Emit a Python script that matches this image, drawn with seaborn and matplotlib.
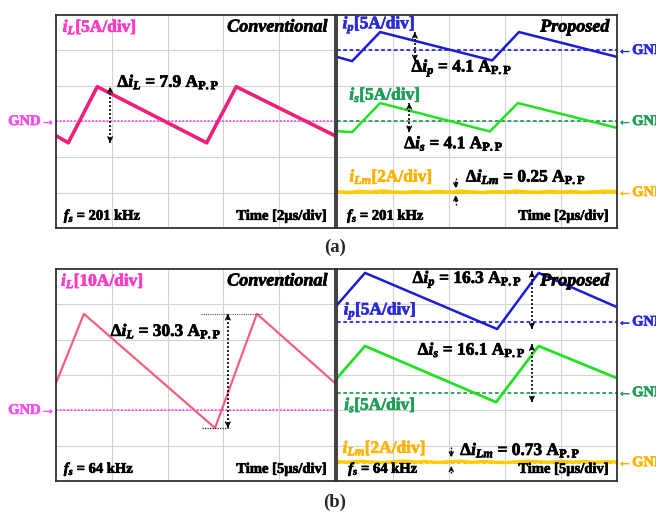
import numpy as np
import pandas as pd
import matplotlib
matplotlib.use('Agg')
import matplotlib.pyplot as plt
import matplotlib.patheffects as pe
import seaborn as sns

# ---- waveform data read off the scope screens (time in us, current in A) ----
# (a) 201 kHz
t_iL_a = [0, 0.44, 1.48, 5.4, 6.46, 10.0]
iL_a = [-2.0, -3.0, 4.9, -3.0, 4.9, -2.0]
t_ip_a = [0, 0.54, 1.54, 5.54, 6.5, 10.0]
ip_a = [-0.9, -1.5, 2.6, -1.4, 2.6, -0.9]
t_is_a = [0, 0.54, 1.54, 5.46, 6.46, 10.0]
is_a = [-1.35, -1.5, 2.6, -1.4, 2.6, -0.9]
t_ilm_a = [0, 0.4, 0.8, 1.2, 1.6, 2.0, 2.4, 2.8, 3.2, 3.6, 4.0, 4.4, 4.8, 5.2,
           5.6, 6.0, 6.4, 6.8, 7.2, 7.6, 8.0, 8.4, 8.8, 9.2, 9.6, 10.0]
ilm_a = [0.04, 0.0, 0.06, 0.02, 0.08, 0.03, 0.0, 0.05, 0.01, 0.06, 0.02, 0.07, 0.03,
         0.0, 0.05, 0.02, 0.08, 0.03, 0.01, 0.06, 0.02, 0.05, 0.0, 0.04, 0.07, 0.05]

# (b) 64 kHz
t_iL_b = [0, 2.5, 14.25, 18.0, 25.0]
iL_b = [7.7, 27.3, -5.0, 27.3, 7.7]
t_ip_b = [0, 2.5, 14.3, 18.0, 25.0]
ip_b = [2.4, 6.95, -1.0, 6.95, 2.1]
t_is_b = [0, 2.5, 14.2, 18.0, 25.0]
is_b = [2.05, 6.6, -1.35, 6.6, 2.05]
t_ilm_b = [0, 1, 2, 3, 4, 5, 6, 7, 8, 9, 10, 11, 12, 13, 14, 15, 16, 17, 18,
           19, 20, 21, 22, 23, 24, 25]
ilm_b = [0.06, 0.02, 0.08, 0.04, 0.0, 0.05, 0.09, 0.03, 0.06, 0.01, 0.05, 0.08, 0.02,
         0.06, 0.03, 0.0, 0.04, 0.08, 0.05, 0.02, 0.07, 0.03, 0.06, 0.01, 0.05, 0.04]

PINK_TXT = '#ff3cc8'
PINK_GND = '#ff4cf0'
BLUE = '#1c1cd4'
GREEN = '#22e022'
GREEN_TXT = '#1f9e55'
YELLOW = '#ffcc00'
ORANGE_TXT = '#ffb300'

sns.set_style('white')
plt.rcParams['font.family'] = ['Liberation Serif', 'DejaVu Serif']
plt.rcParams['font.weight'] = 'bold'
plt.rcParams['mathtext.fontset'] = 'custom'
plt.rcParams['mathtext.rm'] = 'Liberation Serif:bold'
plt.rcParams['mathtext.it'] = 'Liberation Serif:italic:bold'
plt.rcParams['mathtext.bf'] = 'Liberation Serif:bold'

W, H = 656, 514
fig = plt.figure(figsize=(W / 100, H / 100), dpi=100)


def screen(x0, y0, x1, y1):
    ax = fig.add_axes([x0 / W, 1 - y1 / H, (x1 - x0) / W, (y1 - y0) / H])
    ax.set_xlim(0, 5)
    ax.set_ylim(0, 6)
    ax.set_xticks(range(1, 5))
    ax.set_yticks(range(1, 6))
    ax.tick_params(length=0, labelbottom=False, labelleft=False)
    ax.grid(True, color='#d2d2d2', lw=0.8)
    for s in ax.spines.values():
        s.set_color('#303030')
        s.set_linewidth(1.3)
    return ax


def label(ax, x, y, s, size=12.5, color='black', **kw):
    # slight outline of the same colour to imitate the heavy scanned type
    ax.text(x, y, s, fontsize=size, fontweight='bold', va='center', color=color,
            path_effects=[pe.withStroke(linewidth=0.5, foreground=color)], **kw)


def trace(ax, t, v, tdiv, scale, gnd, color, lw):
    df = pd.DataFrame({'x': np.asarray(t) / tdiv, 'y': np.asarray(v) / scale + gnd})
    sns.lineplot(data=df, x='x', y='y', ax=ax, estimator=None, sort=False,
                 color=color, lw=lw)
    ax.set(xlabel='', ylabel='')
    return df


def darrow(ax, x, ytop, ybot):
    ax.plot([x, x], [ybot, ytop], ls=(0, (1.2, 1.2)), color='k', lw=1.2)
    for tip, tail in ((ytop, ytop - 0.15), (ybot, ybot + 0.15)):
        ax.annotate('', xy=(x, tip), xytext=(x, tail),
                    arrowprops=dict(arrowstyle='->', color='k', lw=1.0,
                                    mutation_scale=8, shrinkA=0, shrinkB=0))


def small_arrow(ax, x, y_from, y_to):
    ax.plot([x, x], [y_from, y_to], ls=(0, (1.2, 1.2)), color='k', lw=1.0)
    ax.annotate('', xy=(x, y_to), xytext=(x, y_to + 0.6 * (y_from - y_to)),
                arrowprops=dict(arrowstyle='->', color='k', lw=1.0,
                                mutation_scale=7, shrinkA=0, shrinkB=0))


def gnd(ax, y, color, ls, side, txtcolor):
    ax.axhline(y, color=color, ls=ls, lw=1.3)
    if side == 'left':
        label(ax, -0.01, y, 'GND\u2192', size=10.5, color=txtcolor, ha='right',
              clip_on=False)
    else:
        label(ax, 5.01, y, '\u2190GND', size=10.5, color=txtcolor, ha='left',
              clip_on=False)


def common(ax, title, fs, tdiv, fsx):
    label(ax, 4.86, 5.66, title, size=13, style='italic', ha='right')
    label(ax, fsx, 0.33, r'$f_s$ = ' + fs, size=10.5, ha='left')
    label(ax, 4.86, 0.33, 'Time [' + tdiv + '\u00b5s/div]', size=10.5, ha='right')


# ---------------- (a) conventional ----------------
ax = screen(56, 15, 335, 228)
g = 3.0
gnd(ax, g, PINK_GND, (0, (1, 1)), 'left', PINK_GND)
df = trace(ax, t_iL_a, iL_a, 2.0, 5.0, g, '#f0207a', 2.6)
label(ax, 0.12, 5.66, r'$i_L$[5A/div]', color=PINK_TXT, ha='left')
common(ax, 'Conventional', '201 kHz', '2', 0.14)
darrow(ax, 0.97, df.y.max(), df.y.min())
label(ax, 1.1, 4.11, r'$\Delta i_L$ = 7.9 A$_\mathrm{P.P}$', ha='left')

# ---------------- (a) proposed ----------------
ax = screen(337, 15, 617, 228)
gp, gs, gm = 5.0, 3.0, 1.0
gnd(ax, gp, '#2828f0', (0, (2, 1.5)), 'right', '#2828f0')
gnd(ax, gs, GREEN_TXT, (0, (2, 1.5)), 'right', GREEN_TXT)
gnd(ax, gm, ORANGE_TXT, (0, (2, 1.5)), 'right', ORANGE_TXT)
dp = trace(ax, t_ip_a, ip_a, 2.0, 5.0, gp, BLUE, 1.8)
ds = trace(ax, t_is_a, is_a, 2.0, 5.0, gs, GREEN, 1.8)
trace(ax, t_ilm_a, ilm_a, 2.0, 2.0, gm, YELLOW, 2.6)
label(ax, 0.1, 5.72, r'$i_p$[5A/div]', color='#2a2ad8', ha='left')
label(ax, 0.22, 3.75, r'$i_s$[5A/div]', color=GREEN_TXT, ha='left')
label(ax, 0.22, 1.44, r'$i_{Lm}$[2A/div]', color=ORANGE_TXT, ha='left')
common(ax, 'Proposed', '201 kHz', '2', 0.18)
darrow(ax, 1.39, dp.y.max(), dp.y.min())
darrow(ax, 1.29, ds.y.max(), ds.y.min())
label(ax, 1.33, 4.5, r'$\Delta i_p$ = 4.1 A$_\mathrm{P.P}$', ha='left')
label(ax, 1.2, 2.38, r'$\Delta i_s$ = 4.1 A$_\mathrm{P.P}$', ha='left')
small_arrow(ax, 2.12, 1.42, 1.12)
small_arrow(ax, 2.12, 0.64, 0.92)
label(ax, 2.3, 1.44, r'$\Delta i_{Lm}$ = 0.25 A$_\mathrm{P.P}$', ha='left')

# ---------------- (b) conventional ----------------
ax = screen(56, 269, 335, 481)
g = 2.0
gnd(ax, g, PINK_GND, (0, (1, 1)), 'left', PINK_GND)
df = trace(ax, t_iL_b, iL_b, 5.0, 10.0, g, '#f4607c', 1.6)
label(ax, 0.09, 5.66, r'$i_L$[10A/div]', color=PINK_TXT, ha='left')
common(ax, 'Conventional', '64 kHz', '5', 0.14)
ytop, ybot = df.y.max(), df.y.min()
ax.plot([2.6, 3.7], [ytop, ytop], ls=(0, (1, 1)), color='#555555', lw=0.8)
ax.plot([2.62, 3.12], [ybot, ybot], ls=(0, (1, 1)), color='#222222', lw=0.9)
darrow(ax, 3.08, ytop, ybot)
label(ax, 0.98, 4.24, r'$\Delta i_L$ = 30.3 A$_\mathrm{P.P}$', ha='left')

# ---------------- (b) proposed ----------------
ax = screen(337, 269, 617, 481)
gp, gs, gm = 4.5, 2.5, 0.52
gnd(ax, gp, '#2828f0', (0, (2, 1.5)), 'right', '#2828f0')
gnd(ax, gs, GREEN_TXT, (0, (2, 1.5)), 'right', GREEN_TXT)
gnd(ax, gm, ORANGE_TXT, (0, (2, 1.5)), 'right', ORANGE_TXT)
dp = trace(ax, t_ip_b, ip_b, 5.0, 5.0, gp, BLUE, 1.8)
ds = trace(ax, t_is_b, is_b, 5.0, 5.0, gs, GREEN, 2.0)
trace(ax, t_ilm_b, ilm_b, 5.0, 2.0, gm, YELLOW, 2.4)
label(ax, 0.12, 4.81, r'$i_p$[5A/div]', color='#2a2ad8', ha='left')
label(ax, 0.13, 2.15, r'$i_s$[5A/div]', color=GREEN_TXT, ha='left')
label(ax, 0.1, 0.93, r'$i_{Lm}$[2A/div]', color=ORANGE_TXT, ha='left')
common(ax, 'Proposed', '64 kHz', '5', 0.2)
darrow(ax, 3.48, dp.y.max() + 0.05, dp.y.min())
darrow(ax, 3.48, ds.y.max() + 0.05, ds.y.min())
label(ax, 1.35, 5.7, r'$\Delta i_p$ = 16.3 A$_\mathrm{P.P}$', ha='left')
label(ax, 1.44, 3.71, r'$\Delta i_s$ = 16.1 A$_\mathrm{P.P}$', ha='left')
small_arrow(ax, 2.04, 0.97, 0.67)
small_arrow(ax, 2.04, 0.22, 0.42)
label(ax, 2.2, 0.87, r'$\Delta i_{Lm}$ = 0.73 A$_\mathrm{P.P}$', ha='left')

fig.text(335 / W, 1 - 247 / H, '(a)', fontsize=13.5, fontweight='bold', ha='center', va='center')
fig.text(335 / W, 1 - 502 / H, '(b)', fontsize=13.5, fontweight='bold', ha='center', va='center')

fig.savefig('out.png', dpi=100)
